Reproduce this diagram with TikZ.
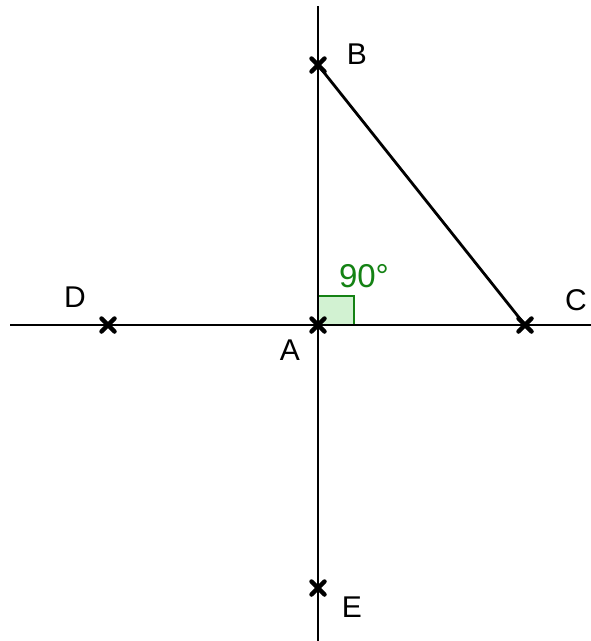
\documentclass[tikz,border=0pt]{standalone}
\usepackage{fontspec}
\setmainfont{Liberation Sans}
\usetikzlibrary{calc}
\definecolor{angfill}{RGB}{210,242,210}
\definecolor{anggreen}{RGB}{20,130,20}
\tikzset{
  ln/.style={line width=2.8pt, black},
  ext/.style={line width=2pt, black},
  crossmark/.style={line width=4.5pt, black, line cap=round},
  lbl/.style={font=\fontsize{30}{30}\selectfont, inner sep=0pt},
}
\newcommand{\xmark}[1]{\draw[crossmark] ($(#1)+(-6.5,-6.5)$) -- ($(#1)+(6.5,6.5)$); \draw[crossmark] ($(#1)+(-6.5,6.5)$) -- ($(#1)+(6.5,-6.5)$);}
\begin{document}
\begin{tikzpicture}[x=1pt,y=-1pt]
\useasboundingbox (0,0) rectangle (591,641);
\fill[white] (0,0) rectangle (591,641);
\coordinate (A) at (318,325);
\coordinate (B) at (318,65);
\coordinate (C) at (525,325);
\coordinate (D) at (108,325);
\coordinate (E) at (318,588);
\coordinate (Ttop) at (318,6);
\coordinate (Tbot) at (318,641);
\coordinate (Tleft) at (10,325);
\coordinate (Tright) at (591,325);
% right angle marker
\filldraw[fill=angfill, draw=anggreen, line width=1.6pt] (318,296) rectangle (354,325);
% lines
\draw[ext] (Ttop) -- (B);
\draw[ext] (E) -- (Tbot);
\draw[ext] (Tleft) -- (D);
\draw[ext] (C) -- (Tright);
\draw[ln] (B) -- (E);
\draw[ln] (D) -- (C);
\draw[ln] (B) -- (C);
% crosses
\xmark{A}
\xmark{B}
\xmark{C}
\xmark{D}
\xmark{E}
% labels
\node[lbl] (lB) at (357,54) {B};
\node[lbl] (lC) at (576,300) {C};
\node[lbl] (lD) at (75,297) {D};
\node[lbl] (lA) at (290,350) {A};
\node[lbl] (lE) at (352,607) {E};
\node[lbl, text=anggreen, font=\fontsize{33}{33}\selectfont] (ang) at (364,276) {90°};
\end{tikzpicture}
\end{document}
